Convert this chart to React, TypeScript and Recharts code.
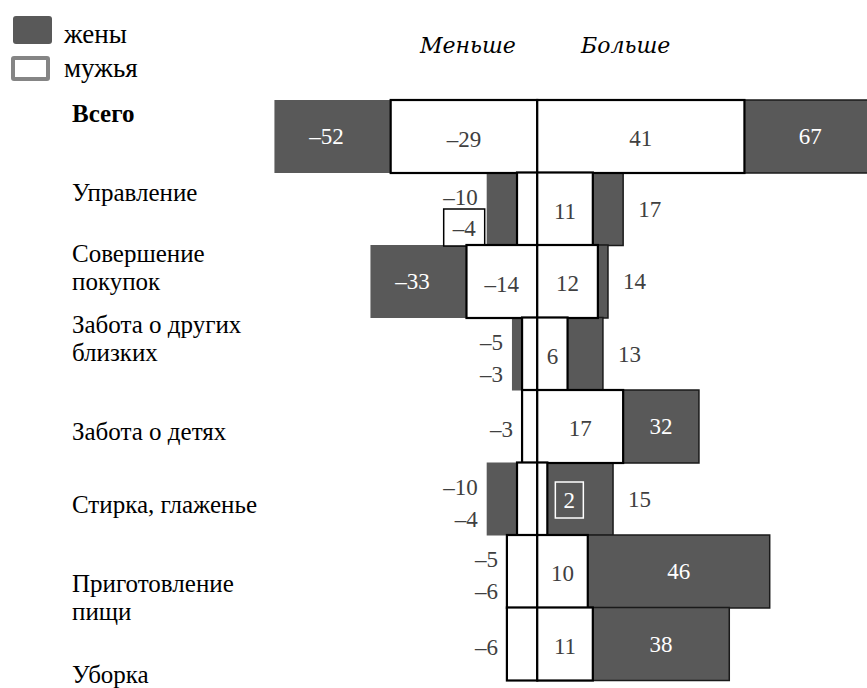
import React from "react";
import { Bar, BarChart, XAxis, YAxis } from "recharts";

const categories = [
  "Всего",
  "Управление",
  "Совершение покупок",
  "Забота о других близких",
  "Забота о детях",
  "Стирка, глаженье",
  "Приготовление пищи",
  "Уборка",
];
// line breaks of the category names as printed
const categoryLines = [
  ["Всего"],
  ["Управление"],
  ["Совершение", "покупок"],
  ["Забота о других", "близких"],
  ["Забота о детях"],
  ["Стирка, глаженье"],
  ["Приготовление", "пищи"],
  ["Уборка"],
];
const wivesLess = [-52, -10, -33, -5, -3, -10, -5, -6];
const wivesMore = [67, 17, 14, 13, 32, 15, 46, 38];
const husbandsLess = [-29, -4, -14, -3, -3, -4, -6, -6];
const husbandsMore = [41, 11, 12, 6, 17, 2, 10, 11];

const rows = categories.map((name, i) => ({
  name,
  wivesLess: wivesLess[i],
  wivesMore: wivesMore[i],
  husbandsLess: husbandsLess[i],
  husbandsMore: husbandsMore[i],
}));

const DARK = "#595959";
const INK = "#404040";
const SERIF = "Liberation Serif, Tinos, serif";
const NUM_SIZE = 23;

// baseline shift of each category name from its band centre
const tickShift = [-14, -8, -19, -21, 14, 14, 21, 39];

const fmt = (v: number) => (v < 0 ? "\u2013" + Math.abs(v) : String(v));

function extent(p: any) {
  const left = Math.min(p.x, p.x + p.width);
  const w = Math.abs(p.width);
  return { left, right: left + w, w };
}

function Num(props: any) {
  const { children, ...rest } = props;
  return (
    <text
      fontFamily={SERIF}
      fontSize={NUM_SIZE}
      dominantBaseline="central"
      textAnchor="middle"
      fill={INK}
      {...rest}
    >
      {children}
    </text>
  );
}

function WivesLessShape(p: any) {
  const i = p.index;
  const { left, right, w } = extent(p);
  const wv = wivesLess[i];
  const hv = husbandsLess[i];
  const ppu = w / Math.abs(wv || 1);
  const hLeft = right + hv * ppu;
  const cy = p.y + p.height / 2;
  let label = null;
  if (Math.abs(wv) - Math.abs(hv) >= 15) {
    label = (
      <Num x={(left + hLeft) / 2 - 6} y={cy} fill="#fff">
        {fmt(wv)}
      </Num>
    );
  } else if (wv !== hv) {
    label = (
      <Num x={Math.min(left, hLeft) - 9} y={cy - 12} textAnchor="end">
        {fmt(wv)}
      </Num>
    );
  }
  return (
    <g>
      <rect x={left} y={p.y} width={w} height={p.height} fill={DARK} />
      {label}
    </g>
  );
}

function WivesMoreShape(p: any) {
  const i = p.index;
  const { left, right, w } = extent(p);
  const wv = wivesMore[i];
  const hv = husbandsMore[i];
  const ppu = w / Math.abs(wv || 1);
  const hRight = left + hv * ppu;
  const cy = p.y + p.height / 2;
  const inside = wv - hv >= 15;
  return (
    <g>
      <rect
        x={left}
        y={p.y}
        width={w}
        height={p.height}
        fill={DARK}
        stroke="#1a1a1a"
        strokeWidth={1.5}
      />
      {inside ? (
        <Num x={(hRight + right) / 2} y={cy} fill="#fff">
          {fmt(wv)}
        </Num>
      ) : (
        <Num x={right + 15} y={cy} textAnchor="start">
          {fmt(wv)}
        </Num>
      )}
    </g>
  );
}

function HusbandsLessShape(p: any) {
  const i = p.index;
  const { left, right, w } = extent(p);
  const hv = husbandsLess[i];
  const wv = wivesLess[i];
  const ppu = w / Math.abs(hv || 1);
  const wLeft = right + wv * ppu;
  const cy = p.y + p.height / 2;
  let label;
  if (Math.abs(hv) >= 10) {
    label = (
      <Num x={(left + right) / 2} y={cy + 3}>
        {fmt(hv)}
      </Num>
    );
  } else {
    const endX = Math.min(left, wLeft) - 9;
    const y = wv !== hv ? cy + 20 : cy + 3;
    const boxed = i === 1;
    label = (
      <g>
        {boxed && (
          <rect
            x={endX - 34}
            y={y - 20}
            width={41}
            height={37}
            fill="#fff"
            stroke="#000"
            strokeWidth={1.5}
          />
        )}
        <Num x={endX - (boxed ? 2 : 0)} y={boxed ? y - 1 : y} textAnchor="end">
          {fmt(hv)}
        </Num>
      </g>
    );
  }
  return (
    <g>
      <rect
        x={left}
        y={p.y}
        width={w}
        height={p.height}
        fill="#fff"
        stroke="#000"
        strokeWidth={2.2}
      />
      {label}
    </g>
  );
}

function HusbandsMoreShape(p: any) {
  const i = p.index;
  const { left, right, w } = extent(p);
  const hv = husbandsMore[i];
  const cy = p.y + p.height / 2;
  return (
    <g>
      <rect
        x={left}
        y={p.y}
        width={w}
        height={p.height}
        fill="#fff"
        stroke="#000"
        strokeWidth={2.2}
      />
      {hv >= 5 ? (
        <Num x={(left + right) / 2} y={cy + 2}>
          {fmt(hv)}
        </Num>
      ) : (
        <g>
          <rect
            x={right + 8}
            y={cy - 17}
            width={28}
            height={36}
            fill="none"
            stroke="#fff"
            strokeWidth={1.5}
          />
          <Num x={right + 22} y={cy + 1} fill="#fff">
            {fmt(hv)}
          </Num>
        </g>
      )}
    </g>
  );
}

function CategoryTick(props: any) {
  const { y, index } = props;
  const lines = categoryLines[index] || [props.payload?.value];
  return (
    <text
      x={72}
      y={y + tickShift[index]}
      fontFamily={SERIF}
      fontSize={25}
      fontWeight={index === 0 ? "bold" : "normal"}
      fill="#000"
      textAnchor="start"
    >
      {lines.map((ln: string, k: number) => (
        <tspan key={k} x={72} dy={k === 0 ? 0 : 28}>
          {ln}
        </tspan>
      ))}
    </text>
  );
}

const headerStyle: React.CSSProperties = {
  position: "absolute",
  top: 33,
  fontFamily: "DejaVu Serif, serif",
  fontStyle: "italic",
  fontSize: 22,
  color: "#000",
};

export default function App() {
  return (
    <div
      style={{
        position: "absolute",
        left: 0,
        top: 0,
        width: 867,
        height: 688,
        overflow: "hidden",
        background: "#fff",
      }}
    >
      {/* legend */}
      <div
        style={{
          position: "absolute",
          left: 13,
          top: 16,
          width: 39,
          height: 28,
          borderRadius: 3,
          background: DARK,
        }}
      />
      <div
        style={{
          position: "absolute",
          left: 11,
          top: 56,
          width: 31,
          height: 17,
          borderRadius: 3,
          border: "4px solid #858585",
          background: "#fff",
        }}
      />
      <div
        style={{
          position: "absolute",
          left: 64,
          top: 17,
          fontFamily: SERIF,
          fontSize: 27,
          lineHeight: "34px",
          color: "#000",
        }}
      >
        жены
        <br />
        мужья
      </div>
      {/* direction headers */}
      <div style={{ ...headerStyle, left: 420 }}>Меньше</div>
      <div style={{ ...headerStyle, left: 581 }}>Больше</div>
      <div style={{ position: "absolute", left: 0, top: 0 }}>
        <BarChart
          layout="vertical"
          width={891}
          height={688}
          data={rows}
          stackOffset="sign"
          barCategoryGap={0}
          margin={{ top: 100, right: 0, bottom: 8, left: 0 }}
        >
          <XAxis type="number" domain={[-60, 70]} allowDataOverflow hide />
          <YAxis
            yAxisId="w"
            type="category"
            dataKey="name"
            width={234}
            axisLine={false}
            tickLine={false}
            interval={0}
            tick={<CategoryTick />}
          />
          <YAxis yAxisId="h" type="category" dataKey="name" hide />
          <Bar
            yAxisId="w"
            dataKey="wivesLess"
            stackId="w"
            isAnimationActive={false}
            shape={(p: any) => <WivesLessShape {...p} />}
          />
          <Bar
            yAxisId="w"
            dataKey="wivesMore"
            stackId="w"
            isAnimationActive={false}
            shape={(p: any) => <WivesMoreShape {...p} />}
          />
          <Bar
            yAxisId="h"
            dataKey="husbandsLess"
            stackId="h"
            isAnimationActive={false}
            shape={(p: any) => <HusbandsLessShape {...p} />}
          />
          <Bar
            yAxisId="h"
            dataKey="husbandsMore"
            stackId="h"
            isAnimationActive={false}
            shape={(p: any) => <HusbandsMoreShape {...p} />}
          />
        </BarChart>
      </div>
    </div>
  );
}
